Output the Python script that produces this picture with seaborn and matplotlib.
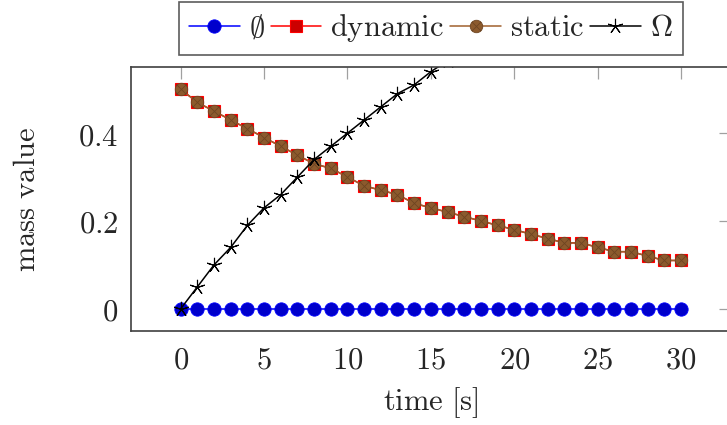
import numpy as np
import pandas as pd
import matplotlib
matplotlib.use("Agg")
import matplotlib.pyplot as plt
from matplotlib.path import Path
import seaborn as sns

# ---- data ----
t_all = list(range(0, 31))
empty_vals = [0.0] * 31
dynamic_vals = [0.50, 0.47, 0.45, 0.43, 0.41, 0.39, 0.37, 0.35, 0.33, 0.32,
                0.30, 0.28, 0.27, 0.26, 0.24, 0.23, 0.22, 0.21, 0.20, 0.19,
                0.18, 0.17, 0.16, 0.15, 0.15, 0.14, 0.13, 0.13, 0.12, 0.11, 0.11]
static_vals = list(dynamic_vals)
t_omega = list(range(0, 17))
omega_vals = [0.0, 0.05, 0.10, 0.14, 0.19, 0.23, 0.26, 0.30, 0.34, 0.37,
              0.40, 0.43, 0.46, 0.49, 0.51, 0.54, 0.565]
series_labels = [r'$\emptyset$', r'$\mathrm{dynamic}$', r'$\mathrm{static}$', r'$\Omega$']
x_ticks = [0, 5, 10, 15, 20, 25, 30]
y_ticks = [0, 0.2, 0.4]
x_ticklabels = ['$0$', '$5$', '$10$', '$15$', '$20$', '$25$', '$30$']
y_ticklabels = ['$0$', '$0.2$', '$0.4$']
x_label = r'$\mathrm{time\ [s]}$'
y_label = r'$\mathrm{mass\ value}$'

sns.set_theme(style='white')
plt.rcParams['mathtext.fontset'] = 'cm'
plt.rcParams['font.family'] = ['DejaVu Serif']

W, H = 727, 425
fig = plt.figure(figsize=(W / 100, H / 100), dpi=100)
left, right, top, bottom = 130.7, 731.0, 67.3, 330.7
ax = fig.add_axes([left / W, 1 - bottom / H, (right - left) / W, (bottom - top) / H])

# otimes marker
circ = Path.unit_circle()
s = 0.7071
xpath = Path([(-s, -s), (s, s), (-s, s), (s, -s)],
             [Path.MOVETO, Path.LINETO, Path.MOVETO, Path.LINETO])
otimes = Path.make_compound_path(circ, xpath)

df_e = pd.DataFrame({'t': t_all, 'v': empty_vals})
df_d = pd.DataFrame({'t': t_all, 'v': dynamic_vals})
df_s = pd.DataFrame({'t': t_all, 'v': static_vals})
df_o = pd.DataFrame({'t': t_omega, 'v': omega_vals})

lw = 1.1
sns.lineplot(data=df_e, x='t', y='v', ax=ax, color='#0000ff', lw=lw,
             marker='o', markersize=9.6, markerfacecolor='#0000cc',
             markeredgecolor='#0000ff', markeredgewidth=0.6, label=series_labels[0])
sns.lineplot(data=df_d, x='t', y='v', ax=ax, color='#ff0000', lw=lw,
             marker='s', markersize=9.0, markerfacecolor='#cc0000',
             markeredgecolor='#ff0000', markeredgewidth=0.8, label=series_labels[1])
sns.lineplot(data=df_s, x='t', y='v', ax=ax, color='#a0602d', lw=lw,
             marker=otimes, markersize=9.0, markerfacecolor='#8c5a2d',
             markeredgecolor='#6e4522', markeredgewidth=0.6, label=series_labels[2])
sns.lineplot(data=df_o, x='t', y='v', ax=ax, color='#000000', lw=lw,
             marker=(5, 2, 0), markersize=11, markerfacecolor='black',
             markeredgecolor='black', markeredgewidth=0.8, label=series_labels[3])

ax.set_xlim(-3, 33)
ax.set_ylim(-0.05, 0.55)
ax.set_xticks(x_ticks)
ax.set_xticklabels(x_ticklabels)
ax.set_yticks(y_ticks)
ax.set_yticklabels(y_ticklabels)
ax.tick_params(direction='in', length=8.6, width=0.9, color='#a0a0a0',
               top=True, right=True, labelsize=22)
ax.tick_params(axis='x', pad=10)
ax.tick_params(axis='y', pad=9)
for sp in ax.spines.values():
    sp.set_color('#404040')
    sp.set_linewidth(1.2)

ax.set_xlabel(x_label, fontsize=22)
ax.set_ylabel(y_label, fontsize=22)
ax.xaxis.set_label_coords(0.5, -0.206)
ax.yaxis.set_label_coords(-0.148, 0.5)

leg = ax.legend(loc='lower center', bbox_to_anchor=(0.5, 1.046), ncol=4,
                frameon=True, fancybox=False, fontsize=22, handlelength=1.65,
                handletextpad=0.3, columnspacing=0.2, borderpad=0.35,
                borderaxespad=0.0)
leg.get_frame().set_edgecolor('#333333')
leg.get_frame().set_linewidth(1.2)

fig.savefig('out.png', dpi=100)
